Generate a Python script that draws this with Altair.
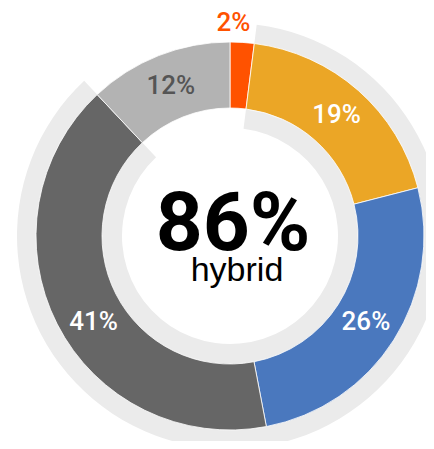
import altair as alt
import pandas as pd
import math

# --- data ---
labels = ["2%", "19%", "26%", "41%", "12%"]
values = [2, 19, 26, 41, 12]
seg_colors = ["#FF5200", "#EBA626", "#4A78BE", "#666666", "#B3B3B3"]
label_colors = ["#FF5200", "#FFFFFF", "#FFFFFF", "#FFFFFF", "#555555"]
hybrid_flags = [False, True, True, True, False]
center_value = "86%"
center_label = "hybrid"

starts, ends = [], []
acc = 0
for v in values:
    starts.append(acc)
    acc += v
    ends.append(acc)

df = pd.DataFrame({
    "label": labels,
    "value": values,
    "start": starts,
    "end": ends,
    "mid": [(s + e) / 2 for s, e in zip(starts, ends)],
    "color": seg_colors,
    "lcolor": label_colors,
    "hybrid": hybrid_flags,
})

hyb = df[df["hybrid"]]
bg = pd.DataFrame({"start": [hyb["start"].min()], "end": [hyb["end"].max()]})

CX, CY = 222, 228
theta_scale = alt.Scale(domain=[0, 100], range=[0, 2 * math.pi])

background = alt.Chart(bg).mark_arc(radius=213, radius2=108, color="#EBEBEB").encode(
    theta=alt.Theta("start:Q", scale=theta_scale),
    theta2="end:Q",
    x=alt.value(CX), y=alt.value(CY),
)

segments = alt.Chart(df).mark_arc(radius=194, radius2=128, stroke="#FFFFFF", strokeWidth=0.8).encode(
    theta=alt.Theta("start:Q", scale=theta_scale),
    theta2="end:Q",
    color=alt.Color("color:N", scale=None),
    x=alt.value(CX), y=alt.value(CY),
)

label_style = dict(font="Roboto", fontSize=26, fontWeight=500, baseline="middle", align="center")

def label_layer(sub, radius, dx=0, dy=0):
    return alt.Chart(sub).mark_text(radius=radius, dx=dx, dy=dy, **label_style).encode(
        theta=alt.Theta("mid:Q", scale=theta_scale),
        text="label:N",
        color=alt.Color("lcolor:N", scale=None),
        x=alt.value(CX), y=alt.value(CY),
    )

inner_main = label_layer(df[(df["value"] > 5) & (df["value"] < 40)], 161)
inner_big = label_layer(df[df["value"] >= 40], 161, dx=7, dy=13)
outer = label_layer(df[df["value"] <= 5], 214, dx=-10, dy=1)

center_df = pd.DataFrame({"big": [center_value], "small": [center_label]})
big_text = alt.Chart(center_df).mark_text(
    font="Roboto", fontSize=82, fontWeight="bold", color="#000000", baseline="alphabetic", align="center"
).encode(text="big:N", x=alt.value(225), y=alt.value(242))
small_text = alt.Chart(center_df).mark_text(
    font="Liberation Sans", fontSize=34, color="#000000", baseline="alphabetic", align="center"
).encode(text="small:N", x=alt.value(229), y=alt.value(273))

chart = alt.layer(background, segments, inner_main, inner_big, outer, big_text, small_text).properties(
    width=418, height=433, autosize="none", padding=0
).configure_view(stroke=None)

chart.save("out.html", embed_options={"renderer": "svg", "actions": False})
